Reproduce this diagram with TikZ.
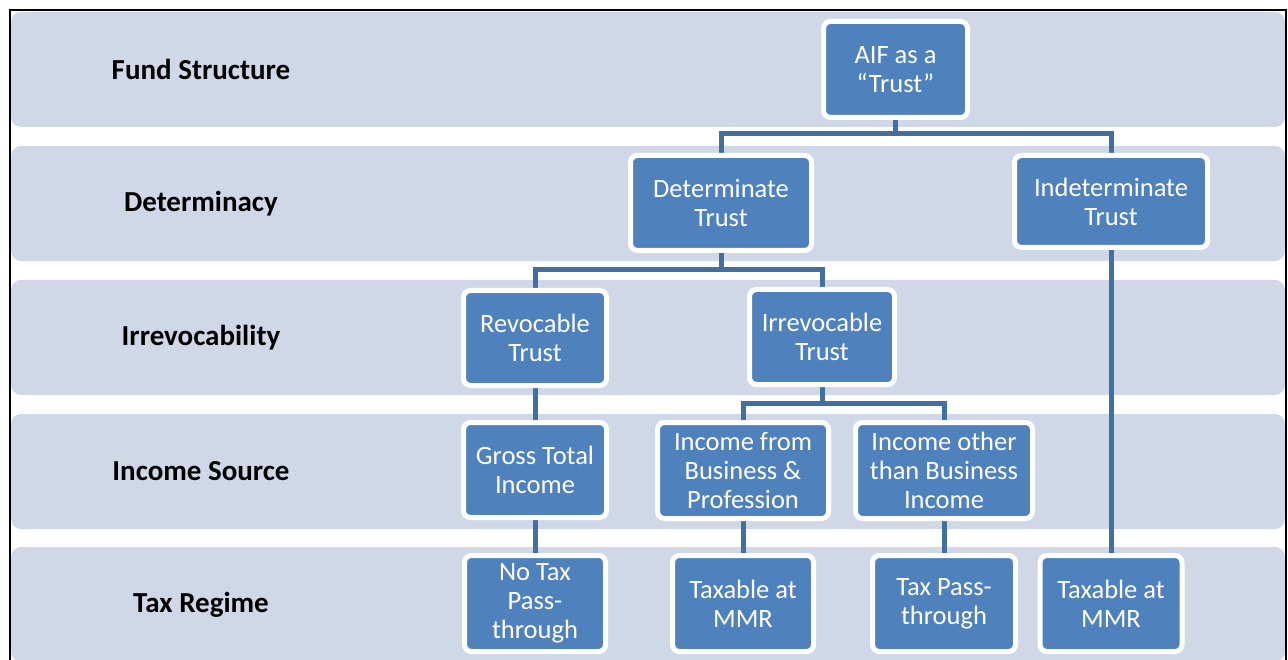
\documentclass[tikz,border=0pt]{standalone}
\usepackage{fontspec}
\setmainfont{Carlito}
\pgfdeclarelayer{bg}
\pgfsetlayers{bg,main}
\definecolor{bandfill}{HTML}{D0D8E8}
\definecolor{nodeblue}{HTML}{4F81BD}
\definecolor{connblue}{HTML}{41709F}
\tikzset{
  band/.style={fill=bandfill, draw=none, rounded corners=10pt},
  rowlabel/.style={font=\fontsize{29}{33}\bfseries\selectfont, text=black, anchor=center},
  box/.style={rectangle, rounded corners=7pt, fill=nodeblue, draw=white, line width=5pt,
    text=white, align=center, inner sep=0pt, font=\fontsize{26.5}{29}\selectfont},
  conn/.style={draw=connblue, line width=5pt}
}
\begin{document}
\begin{tikzpicture}[x=1pt,y=-1pt]
\clip (0,0) rectangle (1288,660);
\begin{pgfonlayer}{bg}
\fill[white] (0,0) rectangle (1288,660);
\foreach \t in {12,146,280,414,547}{
  \path[band] (11,\t) rectangle (1285,\t+115);
}
\end{pgfonlayer}
\draw[black, line width=2pt] (10,680) -- (10,10) -- (1286,10) -- (1286,680);

\node[rowlabel] (l1) at (201,69.5) {Fund Structure};
\node[rowlabel] (l2) at (201,203.5) {Determinacy};
\node[rowlabel] (l3) at (201,337.5) {Irrevocability};
\node[rowlabel] (l4) at (201,471.5) {Income Source};
\node[rowlabel] (l5) at (201,604.5) {Tax Regime};

\node[box, minimum width=144pt, minimum height=96pt] (aif) at (895.5,69.5) {AIF as a\\“Trust”};
\node[box, minimum width=181pt, minimum height=95pt] (det) at (721,203) {Determinate\\Trust};
\node[box, minimum width=193pt, minimum height=92pt] (ind) at (1111,201.5) {Indeterminate\\Trust};
\node[box, minimum width=143pt, minimum height=95pt] (rev) at (535,338) {Revocable\\Trust};
\node[box, minimum width=145pt, minimum height=95pt] (irr) at (822,337) {Irrevocable\\Trust};
\node[box, minimum width=143pt, minimum height=95pt] (gti) at (535,470) {Gross Total\\Income};
\node[box, minimum width=171pt, minimum height=96pt] (ibp) at (743,470.5) {Income from\\Business \&\\Profession};
\node[box, minimum width=177pt, minimum height=96pt] (iob) at (944,470.5) {Income other\\than Business\\Income};
\node[box, minimum width=141pt, minimum height=96pt] (ntp) at (535,603.5) {No Tax\\Pass-\\through};
\node[box, minimum width=141pt, minimum height=96pt] (tm1) at (743,603.5) {Taxable at\\MMR};
\node[box, minimum width=143pt, minimum height=96pt] (tpt) at (944,603.5) {Tax Pass-\\through};
\node[box, minimum width=142pt, minimum height=96pt] (tm2) at (1111,603.5) {Taxable at\\MMR};

\begin{pgfonlayer}{bg}
\draw[conn] (aif.south) -- ++(0,14) -| (det.north);
\draw[conn] (aif.south) -- ++(0,14) -| (ind.north);
\draw[conn] (det.south) -- ++(0,17) -| (rev.north);
\draw[conn] (det.south) -- ++(0,17) -| (irr.north);
\draw[conn] (irr.south) -- ++(0,16) -| (ibp.north);
\draw[conn] (irr.south) -- ++(0,16) -| (iob.north);
\draw[conn] (rev.south) -- (gti.north);
\draw[conn] (gti.south) -- (ntp.north);
\draw[conn] (ibp.south) -- (tm1.north);
\draw[conn] (iob.south) -- (tpt.north);
\draw[conn] (ind.south) -- (tm2.north);
\end{pgfonlayer}
\end{tikzpicture}
\end{document}
